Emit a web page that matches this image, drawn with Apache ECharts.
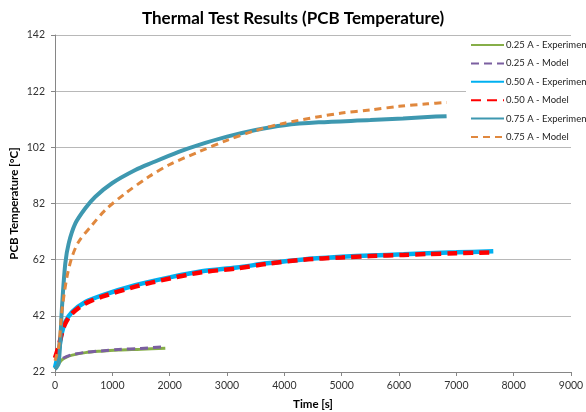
<!DOCTYPE html>
<html>
<head>
<meta charset="utf-8">
<script src="https://cdn.jsdelivr.net/npm/echarts@6/dist/echarts.min.js"></script>
<style>
  html, body { margin: 0; padding: 0; background: #fff; }
  #chart { width: 586px; height: 412px; }
</style>
</head>
<body>
<div id="chart"></div>
<script>
// time [s] and PCB temperature [°C]
var t025Exp = [0, 60, 120, 200, 300, 530, 800, 1110, 1500, 1924];
var v025Exp = [23, 24.8, 26.3, 27.3, 28, 28.9, 29.4, 29.8, 30.1, 30.5];
var t025Mod = [0, 60, 120, 200, 300, 530, 800, 1110, 1500, 1924];
var v025Mod = [23.3, 25.2, 26.6, 27.5, 28.2, 29, 29.5, 30, 30.4, 31];

var t050Exp = [0, 60, 120, 180, 300, 530, 820, 1400, 2000, 2560, 3170, 3700, 4330, 5000, 5500, 6080, 6500, 7000, 7645];
var v050Exp = [23.5, 29, 36, 39.8, 43.4, 46.9, 49.3, 52.9, 55.7, 57.9, 59.2, 60.7, 62.1, 63, 63.5, 63.9, 64.3, 64.6, 65];
var t050Mod = [0, 60, 120, 180, 300, 530, 820, 1400, 2000, 2560, 3170, 3700, 4330, 5000, 5500, 6080, 6500, 7000, 7645];
var v050Mod = [27, 31, 35.8, 39.3, 42.9, 46.4, 48.8, 52.4, 55.3, 57.5, 58.9, 60.5, 62, 62.8, 63.3, 63.7, 64, 64.3, 64.6];

var t075Exp = [0, 64, 122, 180, 239, 355, 529, 703, 994, 1401, 1692, 2157, 2500, 3000, 3500, 4000, 4600, 5500, 6070, 6500, 6830];
var v075Exp = [23, 25.1, 45.2, 60.7, 67.8, 74.9, 80.3, 84.4, 89.2, 93.9, 96.5, 100.4, 102.8, 105.8, 108.2, 109.9, 110.9, 111.7, 112.3, 112.8, 113.1];
var t075Mod = [0, 64, 122, 209, 297, 413, 645, 878, 1227, 1634, 1983, 2506, 3000, 3500, 4000, 4600, 5000, 5500, 6000, 6500, 6830];
var v075Mod = [26, 31, 44, 55.9, 63, 68.4, 74.3, 79.7, 85.6, 91.5, 95.7, 100.4, 104.5, 108, 110.6, 112.9, 114.2, 115.3, 116.6, 117.5, 118];

var xTicks = [0, 9000, 1000];
var yTicks = [22, 142, 20];

function pairs(ts, vs) {
  return ts.map(function (t, i) { return [t, vs[i]]; });
}

var chart = echarts.init(document.getElementById('chart'));
var font = 'Lato';

function line(name, ts, vs, color, width, dash) {
  return {
    name: name,
    type: 'line',
    data: pairs(ts, vs),
    smooth: 0.3,
    symbol: 'none',
    lineStyle: { color: color, width: width, type: dash || 'solid' },
    itemStyle: { color: color },
    emphasis: { disabled: true }
  };
}

chart.setOption({
  animation: false,
  title: {
    text: 'Thermal Test Results (PCB Temperature)',
    left: 'center',
    top: 5,
    textStyle: { fontFamily: font, fontSize: 17, fontWeight: 'bold', color: '#000' }
  },
  grid: { left: 55, right: 15, top: 35, bottom: 40, outerBoundsMode: 'none', containLabel: false },
  legend: {
    orient: 'vertical',
    left: 466,
    top: 38,
    padding: [2, 0, 4, 4],
    itemWidth: 33,
    itemHeight: 12,
    itemGap: 8.4,
    backgroundColor: '#fff',
    itemStyle: { opacity: 0 },
    textStyle: { fontFamily: font, fontSize: 9.5, color: '#222', padding: [0, 0, 0, -3] },
    data: ['0.25 A - Experimental', '0.25 A - Model', '0.50 A - Experimental',
           '0.50 A - Model', '0.75 A - Experimental', '0.75 A - Model']
  },
  xAxis: {
    type: 'value',
    min: xTicks[0], max: xTicks[1], interval: xTicks[2],
    name: 'Time [s]',
    nameLocation: 'middle',
    nameGap: 26,
    nameMoveOverlap: false,
    nameTextStyle: { fontFamily: font, fontSize: 11.5, fontWeight: 'bold', color: '#000' },
    axisLine: { lineStyle: { color: '#868686' } },
    axisTick: { show: true, length: 4, lineStyle: { color: '#868686' } },
    axisLabel: { fontFamily: font, fontSize: 10.5, color: '#333', margin: 8,
                 formatter: function (v) { return String(v); } },
    splitLine: { show: false }
  },
  yAxis: {
    type: 'value',
    min: yTicks[0], max: yTicks[1], interval: yTicks[2],
    name: 'PCB Temperature [°C]',
    nameLocation: 'middle',
    nameGap: 35,
    nameMoveOverlap: false,
    nameTextStyle: { fontFamily: font, fontSize: 11.5, fontWeight: 'bold', color: '#000' },
    axisLine: { show: true, lineStyle: { color: '#868686' } },
    axisTick: { show: true, length: 4, lineStyle: { color: '#868686' } },
    axisLabel: { fontFamily: font, fontSize: 10.5, color: '#333', margin: 10 },
    splitLine: { lineStyle: { color: '#b8b8b8' } }
  },
  series: [
    line('0.25 A - Experimental', t025Exp, v025Exp, '#86AE48', 3),
    line('0.25 A - Model', t025Mod, v025Mod, '#7B5FA0', 3, [8, 5]),
    line('0.50 A - Experimental', t050Exp, v050Exp, '#00B0F0', 4.5),
    line('0.50 A - Model', t050Mod, v050Mod, '#FF0000', 4.5, [10, 6]),
    line('0.75 A - Experimental', t075Exp, v075Exp, '#3E98B0', 4),
    line('0.75 A - Model', t075Mod, v075Mod, '#E0883E', 3, [7, 5])
  ]
});
</script>
</body>
</html>
